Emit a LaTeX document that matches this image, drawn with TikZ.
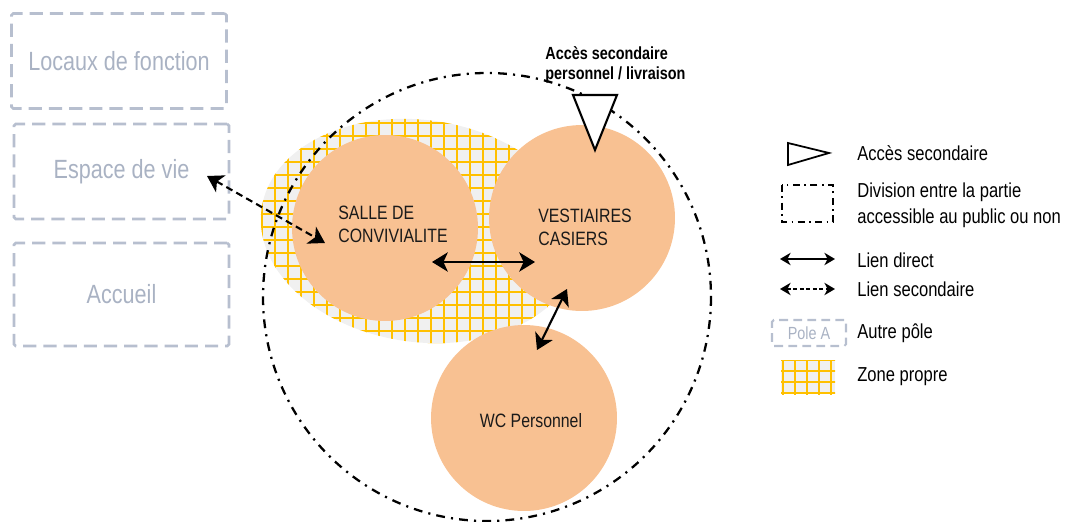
\documentclass[tikz,border=0pt]{standalone}
\usepackage{fontspec}
\setmainfont{Liberation Sans}[FakeStretch=0.82]
\usetikzlibrary{arrows.meta}
\definecolor{peche}{HTML}{F8C192}
\definecolor{poletrait}{HTML}{B7BFCF}
\definecolor{poletexte}{HTML}{A9B2C3}
\definecolor{jaune}{HTML}{FFC000}
\definecolor{gris}{HTML}{F0F0F0}
\definecolor{encre}{HTML}{1A1A1A}
\begin{document}
\begin{tikzpicture}[x=0.02cm, y=-0.02cm,
		pole/.style={draw=poletrait, line width=1.5pt, dash pattern=on 7.5pt off 4pt, rounded corners=1pt, minimum width=4.3cm, minimum height=1.9cm, text=poletexte, font=\fontsize{15}{18}\selectfont},
		zone/.style={circle, fill=peche, minimum size=3.72cm, inner sep=0},
		txt/.style={align=left, text=encre, font=\fontsize{11}{13}\selectfont},
		grille/.style={draw=jaune, line width=1pt},
		division/.style={line width=1.3pt, dash pattern=on 5pt off 3.5pt on 1.2pt off 3.5pt},
		direct/.style={line width=1.2pt, {Stealth[length=9pt,width=11pt,inset=2.5pt]}-{Stealth[length=9pt,width=11pt,inset=2.5pt]}},
		secondaire/.style={direct, dash pattern=on 4pt off 2.5pt},
		petitdirect/.style={line width=1pt, {Stealth[length=6pt,width=7pt,inset=1.8pt]}-{Stealth[length=6pt,width=7pt,inset=1.8pt]}},
		petitsecondaire/.style={petitdirect, dash pattern=on 2.2pt off 1.5pt},
		leg/.style={anchor=west, inner sep=0, align=left, font=\fontsize{11.5}{14.7}\selectfont}]
	\useasboundingbox (0,0) rectangle (1069,521);

	\node[pole] (locaux) at (119,61) {Locaux de fonction};
	\node[pole] (espace) at (121.5,171.5) {Espace de vie};
	\node[pole, minimum height=2.06cm] (accueil) at (121.5,294.5) {Accueil};

	\begin{scope}
		\clip (420,231) ellipse [x radius=160, y radius=111, rotate=-8];
		\fill[gris] (250,100) rectangle (600,360);
		\foreach \gx in {262,275,...,600} \draw[grille] (\gx,100) -- (\gx,360);
		\foreach \gy in {110,123,...,360} \draw[grille] (250,\gy) -- (600,\gy);
	\end{scope}

	\draw[division] (487,297) circle [radius=224];

	\node[zone] (salle) at (385,228) {};
	\node[zone] (vestiaires) at (582,218) {};
	\node[zone] (wc) at (524,418) {};
	\node[txt] at (393,224) {SALLE DE\\CONVIVIALITE};
	\node[txt] at (585,227) {VESTIAIRES\\CASIERS};
	\node[txt] at (531,421) {WC Personnel};

	\draw[line width=1.2pt, fill=white] (573,95) -- (617,95) -- (595,150) -- cycle;
	\node[anchor=west, inner sep=0, align=left, font=\bfseries\fontsize{10}{11.3}\selectfont] (acces) at (545,65) {Accès secondaire\\personnel / livraison};

	\coordinate (s1) at (432,262);
	\coordinate (v1) at (535,262);
	\coordinate (v2) at (567,289);
	\coordinate (w1) at (537,350);
	\coordinate (e1) at (207,176);
	\coordinate (s2) at (325,243);
	\draw[direct] (s1) -- (v1);
	\draw[direct] (v2) -- (w1);
	\draw[secondaire] (e1) -- (s2);

	\draw[line width=1pt] (788,143) -- (829,153) -- (788,165) -- cycle;
	\node[leg] at (857,153) {Accès secondaire};
	\draw[line width=1.1pt, dash pattern=on 4pt off 2.5pt on 1pt off 2.5pt] (782,185) rectangle (833,222);
	\node[leg] at (857,205) {Division entre la partie\\accessible au public ou non};
	\coordinate (d1) at (780,259);
	\coordinate (d2) at (835,259);
	\draw[petitdirect] (d1) -- (d2);
	\node[leg] at (857,260) {Lien direct};
	\coordinate (l1) at (780,289);
	\coordinate (l2) at (835,289);
	\draw[petitsecondaire] (l1) -- (l2);
	\node[leg] at (857,289) {Lien secondaire};
	\node[pole, line width=1.2pt, dash pattern=on 5pt off 3pt, minimum width=1.48cm, minimum height=0.52cm, font=\fontsize{10}{12}\selectfont] (polea) at (809,333) {Pole A};
	\node[leg] at (857,333) {Autre pôle};
	\begin{scope}
		\clip (781,360) rectangle (835,394);
		\fill[gris] (781,360) rectangle (835,394);
		\foreach \gx in {783,795,...,835} \draw[grille] (\gx,355) -- (\gx,400);
		\foreach \gy in {360,371,...,394} \draw[grille] (775,\gy) -- (840,\gy);
	\end{scope}
	\node[leg] at (857,377) {Zone propre};
\end{tikzpicture}
\end{document}
